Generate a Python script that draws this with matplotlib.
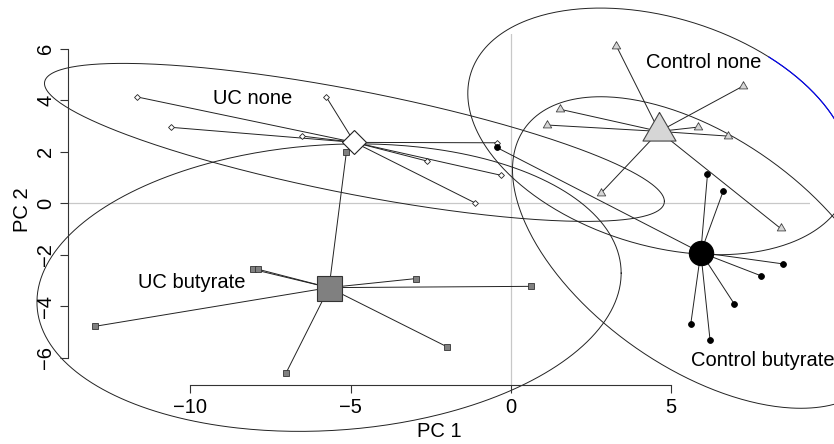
import numpy as np
import matplotlib
matplotlib.use('Agg')
import matplotlib.pyplot as plt

plt.rcParams['font.family'] = ['Liberation Sans', 'DejaVu Sans']

# PCA scores (PC1, PC2), one pair of lists per group
uc_none_pc1 = [-11.67, -10.61, -6.52, -5.76, -2.61, -0.44, -0.31, -1.12]
uc_none_pc2 = [4.13, 2.95, 2.61, 4.13, 1.64, 2.35, 1.09, 0.02]
uc_but_pc1 = [-8.05, -7.88, -12.97, -7.01, -2.97, 0.63, -2.00, -5.13]
uc_but_pc2 = [-2.56, -2.56, -4.77, -6.57, -2.92, -3.22, -5.56, 2.00]
ctl_none_pc1 = [3.30, 7.25, 1.54, 1.12, 5.86, 6.77, 2.81, 8.42]
ctl_none_pc2 = [6.10, 4.55, 3.65, 3.04, 2.96, 2.61, 0.39, -0.97]
ctl_but_pc1 = [6.14, 6.63, 8.50, 7.81, 6.97, 5.62, 6.22, -0.44]
ctl_but_pc2 = [1.12, 0.47, -2.35, -2.81, -3.89, -4.67, -5.30, 2.17]

group_names = ['UC none', 'UC butyrate', 'Control none', 'Control butyrate']
label_pos = [(-8.05, 4.07), (-9.97, -3.06), (6.01, 5.47), (5.64, -6.08)]
x_ticks = [-10, -5, 0, 5]
y_ticks = [-6, -4, -2, 0, 2, 4, 6]

tri = [(0, 1), (-0.866, -0.5), (0.866, -0.5), (0, 1)]
styles = [
    # marker, small size, big size, face, edge
    ('D', 3.0, 12.2, 'white', '#222222'),
    ('s', 4.5, 18.0, '#808080', '#333333'),
    (tri, 7.0, 27.5, '#d6d6d6', '#444444'),
    ('o', 4.2, 17.5, 'black', 'black'),
]


def ellipse_xy(x, y, conf=0.9, n=400):
    pts = np.column_stack([x, y])
    cen = pts.mean(axis=0)
    L = np.linalg.cholesky(np.cov(pts.T))
    scale = np.sqrt(-2 * np.log(1 - conf))
    t = np.linspace(0, 2 * np.pi, n)
    circ = np.column_stack([np.cos(t), np.sin(t)])
    e = cen + scale * circ @ L.T
    return e[:, 0], e[:, 1]


fig = plt.figure(figsize=(8.34, 4.44), dpi=100)
ax = fig.add_axes([0.0812, 0.1322, 0.9712 - 0.0812, 0.9228 - 0.1322])
ax.set_xlim(-13.83, 9.34)
ax.set_ylim(-7.06, 6.56)

ax.axhline(0, color='#c8c8c8', lw=0.9, zorder=0)
ax.axvline(0, color='#c8c8c8', lw=0.9, zorder=0)

groups = [(uc_none_pc1, uc_none_pc2), (uc_but_pc1, uc_but_pc2),
          (ctl_none_pc1, ctl_none_pc2), (ctl_but_pc1, ctl_but_pc2)]

for i, (gx, gy) in enumerate(groups):
    gx = np.array(gx)
    gy = np.array(gy)
    cx, cy = gx.mean(), gy.mean()
    mk, ms_small, ms_big, fc, ec = styles[i]

    # ellipse
    ex, ey = ellipse_xy(gx, gy)
    ax.plot(ex, ey, color='#222222', lw=0.7, clip_on=False, zorder=1)
    if i == 2:
        # a stray blue piece over the top right of this ellipse
        bx = np.where((ex > 7.99) & (ey > cy), ex, np.nan)
        ax.plot(bx, ey, color='#0000ff', lw=0.8, clip_on=False, zorder=1.5)

    # spider
    for px, py in zip(gx, gy):
        ax.plot([cx, px], [cy, py], color='#222222', lw=0.7, zorder=2)

    ax.plot(gx, gy, ls='none', marker=mk, ms=ms_small, mfc=fc, mec=ec,
            mew=0.6, zorder=3)
    ax.plot([cx], [cy], ls='none', marker=mk, ms=ms_big, mfc=fc, mec=ec,
            mew=0.8, zorder=4)

for name, (lx, ly) in zip(group_names, label_pos):
    ha = 'left' if name == 'Control butyrate' else 'center'
    ax.text(lx, ly, name, ha=ha, va='center', fontsize=14.5, zorder=5,
            clip_on=False)

for s in ['top', 'right']:
    ax.spines[s].set_visible(False)
ax.spines['left'].set_bounds(-6, 6)
ax.spines['bottom'].set_bounds(-10, 5)
for s in ['left', 'bottom']:
    ax.spines[s].set_linewidth(0.8)
    ax.spines[s].set_color('#333333')

ax.set_xticks(x_ticks)
ax.set_yticks(y_ticks)
ax.tick_params(direction='out', length=5.5, width=0.8, color='#333333',
               labelsize=14.5, pad=3.5)
ax.tick_params(axis='y', labelrotation=90)
for lab in ax.get_yticklabels():
    lab.set_va('center')

ax.set_xlabel('PC 1', fontsize=14.5, labelpad=4)
ax.set_ylabel('PC 2', fontsize=14.5, labelpad=3)

fig.savefig('out.png', dpi=100)
